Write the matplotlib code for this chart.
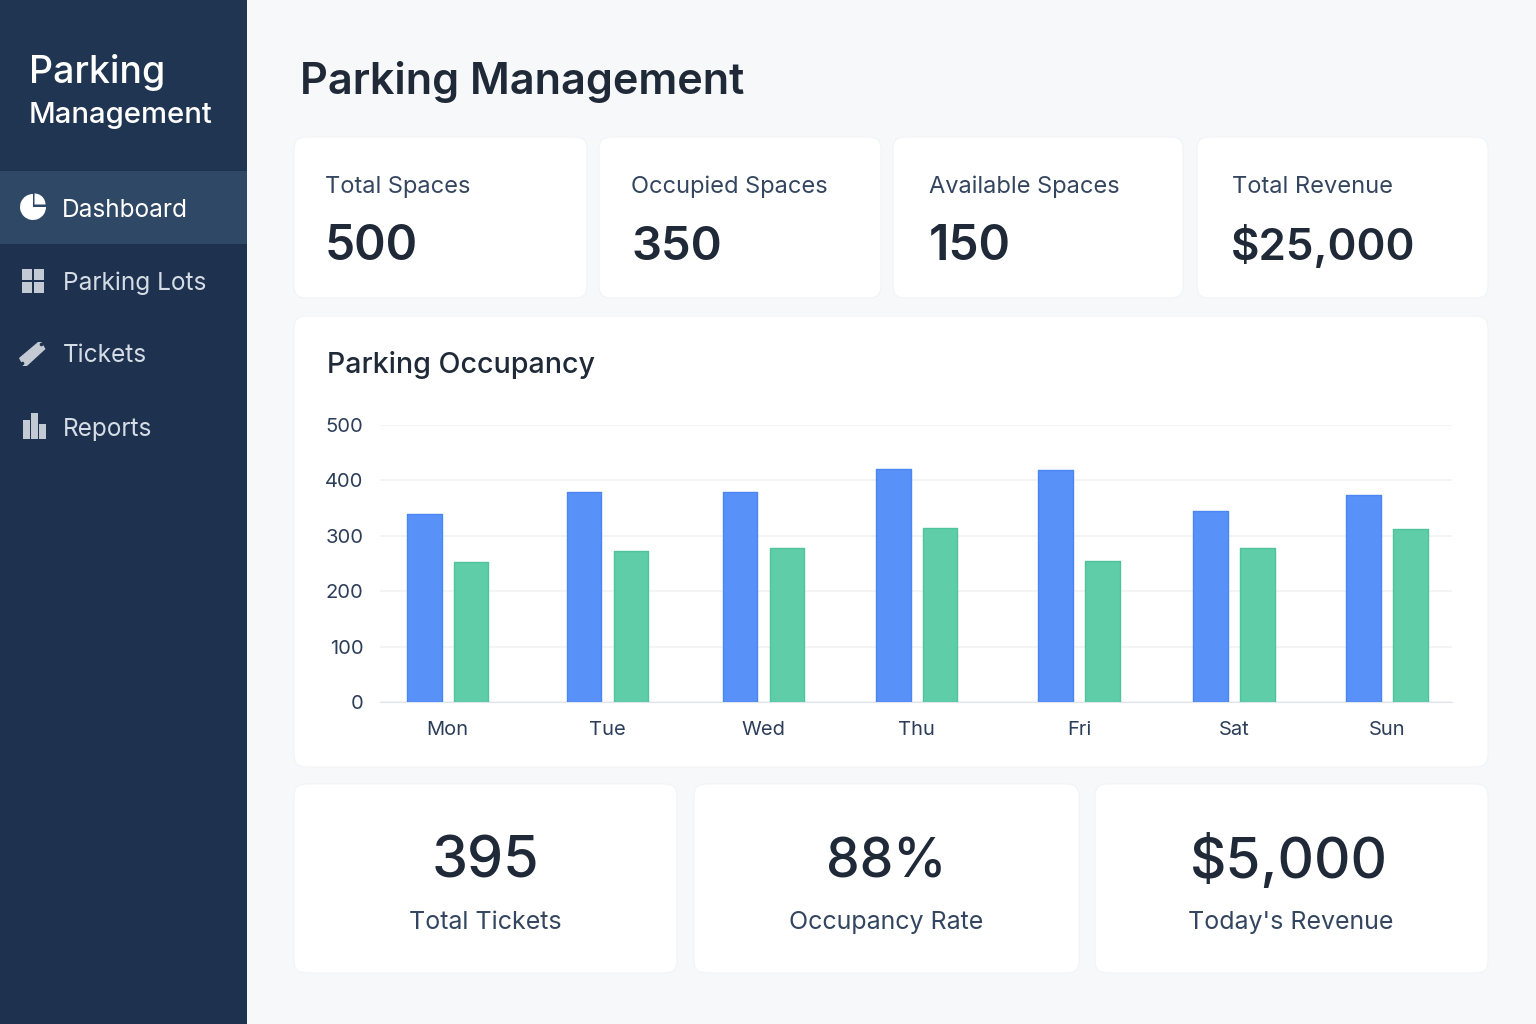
import matplotlib
matplotlib.use('Agg')
import matplotlib.pyplot as plt
from matplotlib.patches import FancyBboxPatch, Rectangle, Wedge, Polygon, Circle

plt.rcParams['font.family'] = ['Inter', 'DejaVu Sans']

days = ['Mon', 'Tue', 'Wed', 'Thu', 'Fri', 'Sat', 'Sun']
occupied = [339, 379, 379, 420, 419, 345, 374]
available = [253, 273, 278, 314, 255, 278, 312]
y_ticks = [0, 100, 200, 300, 400, 500]

nav_items = ['Dashboard', 'Parking Lots', 'Tickets', 'Reports']
top_labels = ['Total Spaces', 'Occupied Spaces', 'Available Spaces', 'Total Revenue']
top_values = ['500', '350', '150', '$25,000']
bottom_labels = ['Total Tickets', 'Occupancy Rate', "Today's Revenue"]
bottom_values = ['395', '88%', '$5,000']

# the groups are not evenly spaced in the picture
group_x = [447.75, 607.5, 763.5, 916.75, 1079, 1234, 1387]

NAVY = '#1e3250'
DARK = '#1f2937'
SLATE = '#2c3e5a'

fig = plt.figure(figsize=(15.36, 10.24), dpi=100, facecolor='#f7f8fa')

# page layer in pixel coordinates
bg = fig.add_axes([0, 0, 1, 1], zorder=0)
bg.set_xlim(0, 1536)
bg.set_ylim(1024, 0)
bg.axis('off')


def card(x0, y0, x1, y1):
    bg.add_patch(FancyBboxPatch((x0 + 12, y0 + 12), x1 - x0 - 24, y1 - y0 - 24,
                                boxstyle='round,pad=12,rounding_size=12',
                                fc='white', ec='#f1f3f6', lw=0.8))


# sidebar
bg.add_patch(Rectangle((0, 0), 247, 1024, fc=NAVY, ec='none'))
bg.add_patch(Rectangle((0, 0), 247, 170, fc='#203552', ec='none'))
bg.add_patch(Rectangle((0, 171), 247, 73, fc='#2f4866', ec='none'))
bg.text(29, 83, 'Parking', color='white', fontsize=27, fontweight='medium', va='baseline')
bg.text(29, 123, 'Management', color='white', fontsize=21.1, fontweight='medium', va='baseline')

nav_x = [62, 63, 63, 63]
nav_y = [217, 290, 362, 436]
for i, item in enumerate(nav_items):
    bg.text(nav_x[i], nav_y[i], item, fontsize=17.6, va='baseline',
            color='white' if i == 0 else '#d5dce5')

# nav icons
ICON = '#c3cad3'
bg.add_patch(Wedge((33, 207), 13, 0, 270, fc='white', ec='none'))
bg.add_patch(Wedge((34.5, 204.5), 11, 270, 360, fc='white', ec='none'))
for x in (22, 34):
    for y in (269, 282):
        bg.add_patch(Rectangle((x, y), 10, 10.5, fc=ICON, ec='none'))
bg.add_patch(Polygon([(19, 358), (38, 342), (41.5, 342), (45.5, 349), (27, 366), (23, 366)],
                     closed=True, fc=ICON, ec='none'))
bg.add_patch(Circle((41.5, 344.5), 1.8, fc=NAVY, ec='none'))
bg.add_patch(Circle((22.5, 363.5), 1.8, fc=NAVY, ec='none'))
bg.add_patch(Rectangle((23, 420), 7, 19, fc=ICON, ec='none'))
bg.add_patch(Rectangle((31, 413), 7, 26, fc=ICON, ec='none'))
bg.add_patch(Rectangle((39, 424), 7, 15, fc=ICON, ec='none'))

bg.text(300, 94, 'Parking Management', color=DARK, fontsize=31.1, fontweight='semibold', va='baseline')

# top cards
top_boxes = [(294, 587), (599, 881), (893, 1183), (1197, 1488)]
label_x = [325, 631, 929, 1232]
value_x_top = [325, 631, 929, 1231]
value_sizes = [34.5, 34, 34.5, 31.6]
for i, (x0, x1) in enumerate(top_boxes):
    card(x0, 137, x1, 298)
    bg.text(label_x[i], 193, top_labels[i], color='#34465f', fontsize=17, va='baseline')
    bg.text(value_x_top[i], 260, top_values[i], color=DARK, fontsize=value_sizes[i],
            fontweight='semibold', va='baseline')

# chart card
card(294, 316, 1488, 767)
bg.text(327, 373, 'Parking Occupancy', color=DARK, fontsize=20.6, fontweight='medium', va='baseline')

# bottom cards
bottom_boxes = [(294, 677), (694, 1079), (1095, 1488)]
value_x = [485, 886, 1289]
label_cx = [485, 886, 1291]
bottom_sizes = [41.4, 38.5, 40.7]
for i, (x0, x1) in enumerate(bottom_boxes):
    card(x0, 784, x1, 973)
    bg.text(value_x[i], 878, bottom_values[i], color=DARK, fontsize=bottom_sizes[i], fontweight='medium',
            ha='center', va='baseline')
    bg.text(label_cx[i], 929, bottom_labels[i], color='#34465f', fontsize=18, ha='center', va='baseline')

# bar chart, x axis runs in page pixels so the group spacing can be kept
ax = fig.add_axes([380 / 1536, 1 - 702 / 1024, 1072 / 1536, 277 / 1024], zorder=1)
ax.patch.set_alpha(0)
ax.set_xlim(380, 1452)
ax.set_ylim(0, 500)
blue_x = [x - 23.3 for x in group_x]
green_x = [x + 23.3 for x in group_x]
ax.bar(blue_x, occupied, width=34.5, color='#5891f8', edgecolor='#4b86f3', linewidth=1, joinstyle='round', zorder=3)
ax.bar(green_x, available, width=34.5, color='#5ecda8', edgecolor='#4fc49c', linewidth=1, joinstyle='round', zorder=3)
ax.set_yticks(y_ticks)
ax.set_xticks(group_x)
ax.set_xticklabels(days)
ax.tick_params(length=0, labelsize=14.5, labelcolor=SLATE)
ax.tick_params(axis='x', pad=14)
ax.tick_params(axis='y', pad=12)
ax.grid(axis='y', color='#eff1f4', linewidth=1.1, zorder=0)
ax.set_axisbelow(True)
for side in ['top', 'right', 'left']:
    ax.spines[side].set_visible(False)
ax.spines['bottom'].set_color('#e2e5ea')

fig.savefig('out.png', dpi=100, facecolor=fig.get_facecolor())
